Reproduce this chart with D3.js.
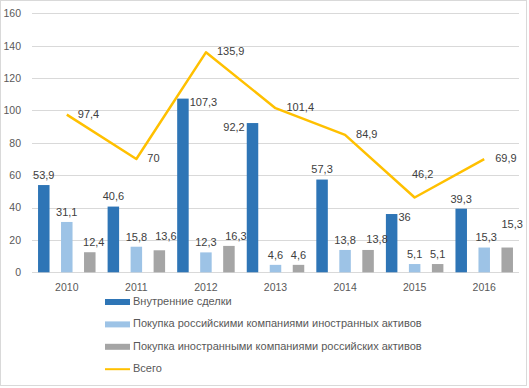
<!DOCTYPE html>
<html><head><meta charset="utf-8">
<script src="https://cdn.jsdelivr.net/npm/d3@7"></script>
<style>body{margin:0;background:#fff}svg{display:block;font-family:"Liberation Sans",Arial,sans-serif}</style>
</head><body><svg id="c" width="529" height="388"></svg>
<script>
const years = ["2010","2011","2012","2013","2014","2015","2016"];
const domestic = [53.9, 40.6, 107.3, 92.2, 57.3, 36, 39.3];
const outbound = [31.1, 15.8, 12.3, 4.6, 13.8, 5.1, 15.3];
const inbound = [12.4, 13.6, 16.3, 4.6, 13.8, 5.1, 15.3];
const total = [97.4, 70, 135.9, 101.4, 84.9, 46.2, 69.9];
const yTicks = [0, 20, 40, 60, 80, 100, 120, 140, 160];
const seriesNames = ["Внутренние сделки","Покупка российскими компаниями иностранных активов","Покупка иностранными компаниями российских активов","Всего"];
const colors = ["#2E75B6","#9DC3E6","#A5A5A5","#FFC000"];

const svg = d3.select("#c");
const fmt = v => String(v).replace(".", ",");
svg.append("rect").attr("x",0.5).attr("y",0.5).attr("width",526).attr("height",385)
  .attr("fill","#fff").attr("stroke","#d9d9d9");

const x = d3.scaleBand().domain(years).range([32, 519]).padding(0);
const y = d3.scaleLinear().domain([0, 160]).range([272.3, 13.3]);
const sub = d3.scalePoint().domain([0,1,2]).range([-23, 23]);
const bw = 11.5;

svg.append("g").selectAll("line").data(yTicks).join("line")
  .attr("x1", 32).attr("x2", 519)
  .attr("y1", d => Math.round(y(d))+0.5).attr("y2", d => Math.round(y(d))+0.5)
  .attr("stroke", "#d9d9d9").attr("stroke-width", 1);

const yAxis = svg.append("g").attr("transform","translate(32,0)")
  .call(d3.axisLeft(y).tickValues(yTicks).tickSize(0).tickPadding(11));
yAxis.select(".domain").remove();
yAxis.selectAll("text").attr("fill","#595959").style("font-size","10.5px").style("font-family","Liberation Sans, Arial");

const xAxis = svg.append("g").attr("transform","translate(0,272.3)")
  .call(d3.axisBottom(x).tickSize(0).tickPadding(11));
xAxis.select(".domain").remove();
xAxis.selectAll("text").attr("fill","#595959").style("font-size","10.5px").style("font-family","Liberation Sans, Arial");

const barSeries = [domestic, outbound, inbound];
// label nudges [dx, dy] relative to default outside-end placement
const nudge = {
  "2-0": [4, 0], "2-1": [6.5, -4], "2-2": [7, 0], "2-4": [9, -1], "2-6": [5, -13], "1-6": [2, 0]
};
barSeries.forEach((vals, s) => {
  svg.append("g").selectAll("rect").data(vals).join("rect")
    .attr("x", (d,i) => x(years[i]) + x.bandwidth()/2 + sub(s) - bw/2)
    .attr("y", d => y(d)).attr("width", bw).attr("height", d => y(0) - y(d))
    .attr("fill", colors[s]);
});

const lbl = svg.append("g").style("font-size","11px").attr("fill","#404040");
barSeries.forEach((vals, s) => {
  vals.forEach((v, i) => {
    const cx = x(years[i]) + x.bandwidth()/2 + sub(s);
    let tx = cx, ty = y(v) - 9, anchor = "middle";
    const n = nudge[s+"-"+i] || [0,0];
    if (s === 0 && (i === 2 || i === 5)) { tx = cx + bw/2 + 1; ty = y(v) + 4; anchor = "start"; }
    if (s === 0 && i === 3) { tx = cx - bw/2 - 2; ty = y(v) + 5; anchor = "end"; }
    lbl.append("text").attr("x", tx + n[0]).attr("y", ty + n[1])
      .attr("text-anchor", anchor).attr("dominant-baseline","middle").text(fmt(v));
  });
});

const cxOf = i => x(years[i]) + x.bandwidth()/2;
svg.append("path").datum(total)
  .attr("d", d3.line().x((d,i) => cxOf(i)).y(d => y(d)))
  .attr("fill","none").attr("stroke", colors[3]).attr("stroke-width", 2.5).attr("stroke-linejoin","round");

total.forEach((v, i) => {
  let tx = cxOf(i) + 11, ty = y(v), anchor = "start";
  if (i === 5) { tx = cxOf(i) + 8; ty = y(v) - 22; anchor = "middle"; }
  lbl.append("text").attr("x", tx).attr("y", ty).attr("text-anchor", anchor)
    .attr("dominant-baseline","middle").text(fmt(v));
});

const lg = svg.append("g").style("font-size","11px").attr("fill","#595959");
seriesNames.forEach((name, k) => {
  const ly = 302 + k * 22.4;
  if (k < 3) lg.append("rect").attr("x",105).attr("y",ly-3).attr("width",25).attr("height",6).attr("fill",colors[k]);
  else lg.append("line").attr("x1",105).attr("x2",130).attr("y1",ly).attr("y2",ly).attr("stroke",colors[k]).attr("stroke-width",2);
  lg.append("text").attr("x",133).attr("y",ly).attr("dominant-baseline","middle").text(name);
});
</script></body></html>
